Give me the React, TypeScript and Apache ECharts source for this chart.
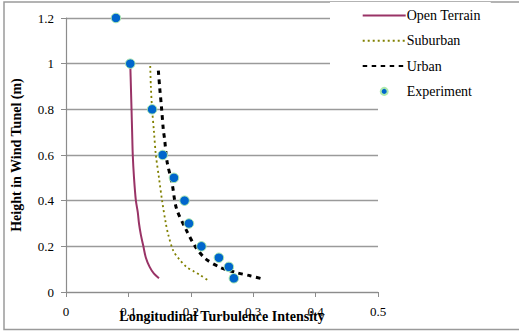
import React, { useEffect, useRef } from "react";
import * as echarts from "echarts";

const openX = [0.103, 0.104, 0.105, 0.106, 0.107, 0.109, 0.112, 0.115, 0.117, 0.12, 0.124, 0.128, 0.134, 0.141, 0.149];
const openY = [1.0, 0.9, 0.8, 0.7, 0.6, 0.5, 0.4, 0.35, 0.3, 0.25, 0.2, 0.15, 0.11, 0.08, 0.06];

const subX = [0.135, 0.136, 0.138, 0.141, 0.144, 0.149, 0.154, 0.16, 0.164, 0.172, 0.181, 0.193, 0.205, 0.215, 0.227];
const subY = [0.99, 0.9, 0.8, 0.7, 0.6, 0.5, 0.4, 0.3, 0.25, 0.18, 0.145, 0.11, 0.09, 0.074, 0.052];

const urbX = [0.148, 0.15, 0.153, 0.156, 0.158, 0.162, 0.17, 0.177, 0.193, 0.207, 0.223, 0.247, 0.273, 0.295, 0.317];
const urbY = [0.97, 0.9, 0.81, 0.71, 0.67, 0.57, 0.476, 0.366, 0.27, 0.2, 0.147, 0.108, 0.085, 0.071, 0.056];

const expX = [0.08, 0.103, 0.138, 0.155, 0.173, 0.19, 0.197, 0.217, 0.245, 0.261, 0.269];
const expY = [1.2, 1.0, 0.8, 0.6, 0.5, 0.4, 0.3, 0.2, 0.15, 0.11, 0.06];

const seriesNames = ["Open Terrain", "Suburban", "Urban", "Experiment"];
const xAxisTitle = "Longitudinal Turbulence Intensity";
const yAxisTitle = "Height in Wind Tunel (m)";

const pair = (xs: number[], ys: number[]) => xs.map((x, i) => [x, ys[i]]);

const FONT = "Liberation Serif";
const hiddenSymbol = { color: "rgba(0,0,0,0)", opacity: 0, borderWidth: 0 };

export default function App() {
  const ref = useRef<HTMLDivElement>(null);
  useEffect(() => {
    if (!ref.current) return;
    const chart = echarts.init(ref.current, null, { renderer: "svg" });
    chart.setOption({
      animation: false,
      backgroundColor: "#fff",
      textStyle: { fontFamily: FONT },
      grid: { left: 66, right: 141, top: 18, bottom: 41 },
      graphic: [
        {
          type: "rect",
          shape: { x: 4, y: 2, width: 530, height: 327.5 },
          style: { fill: "none", stroke: "#9a9a9a", lineWidth: 1.5 },
          z: -10,
          silent: true,
        },
      ],
      legend: {
        orient: "vertical",
        left: 330,
        top: 2,
        padding: [6, 10, 8, 31.7],
        backgroundColor: "#fff",
        itemWidth: 43,
        itemHeight: 7,
        itemGap: 10.3,
        textStyle: { fontFamily: FONT, fontSize: 14, color: "#000", lineHeight: 15, padding: [0, 0, 0, -4] },
        data: [
          { name: seriesNames[0], itemStyle: hiddenSymbol },
          { name: seriesNames[1], itemStyle: hiddenSymbol },
          { name: seriesNames[2], itemStyle: hiddenSymbol },
          { name: seriesNames[3], icon: "circle" },
        ],
      },
      xAxis: {
        type: "value",
        min: 0,
        max: 0.5,
        interval: 0.1,
        name: xAxisTitle,
        nameLocation: "middle",
        nameGap: 17,
        nameMoveOverlap: false,
        nameTextStyle: { fontFamily: FONT, fontSize: 14, fontWeight: "bold", color: "#000" },
        axisLine: { show: true, lineStyle: { color: "#8c8c8c", width: 1.2 } },
        axisTick: { show: true, inside: false, length: 5, lineStyle: { color: "#8c8c8c" } },
        axisLabel: { fontFamily: FONT, fontSize: 13, color: "#000", margin: 13 },
        splitLine: { show: false },
      },
      yAxis: {
        type: "value",
        min: 0,
        max: 1.2,
        interval: 0.2,
        name: yAxisTitle,
        nameLocation: "middle",
        nameGap: 43,
        nameMoveOverlap: false,
        nameTextStyle: { fontFamily: FONT, fontSize: 14, fontWeight: "bold", color: "#000" },
        axisLine: { show: true, lineStyle: { color: "#8c8c8c", width: 1.2 } },
        axisTick: { show: true, inside: false, length: 5, lineStyle: { color: "#8c8c8c" } },
        axisLabel: { fontFamily: FONT, fontSize: 13, color: "#000", margin: 12 },
        splitLine: { show: true, lineStyle: { color: "#9a9a9a", width: 1.3 } },
      },
      series: [
        {
          name: seriesNames[0],
          type: "line",
          data: pair(openX, openY),
          symbol: "none",
          smooth: 0.3,
          lineStyle: { color: "#993366", width: 2 },
          itemStyle: { color: "#993366" },
          z: 2,
        },
        {
          name: seriesNames[1],
          type: "line",
          data: pair(subX, subY),
          symbol: "none",
          smooth: 0.3,
          lineStyle: { color: "#808000", width: 1.8, type: [2, 3] },
          itemStyle: { color: "#808000" },
          z: 2,
        },
        {
          name: seriesNames[2],
          type: "line",
          data: pair(urbX, urbY),
          symbol: "none",
          smooth: 0.3,
          lineStyle: { color: "#000", width: 3, type: [4.5, 4.5] },
          itemStyle: { color: "#000" },
          z: 2,
        },
        {
          name: seriesNames[3],
          type: "scatter",
          data: pair(expX, expY),
          symbol: "circle",
          symbolSize: 9.5,
          itemStyle: { color: "#0066cc", borderColor: "#aeeaae", borderWidth: 1, opacity: 1 },
          z: 5,
        },
      ],
    });
    return () => chart.dispose();
  }, []);
  return (
    <div
      ref={ref}
      style={{ position: "fixed", left: 0, top: 0, width: 519, height: 333, background: "#fff" }}
    />
  );
}
